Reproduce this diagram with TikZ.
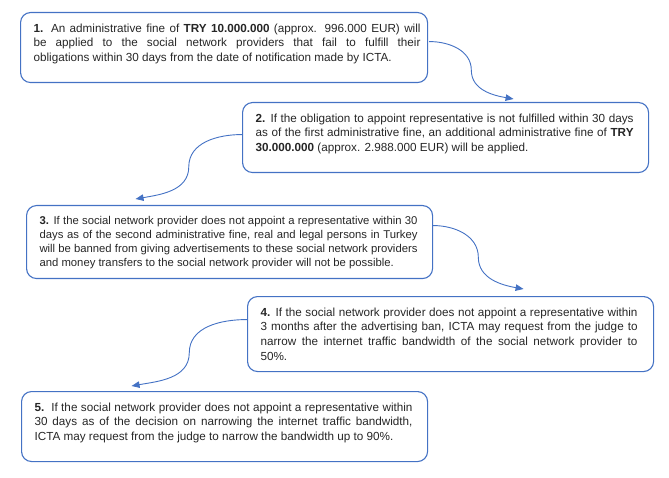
\documentclass[tikz,border=0pt]{standalone}
\usepackage{fontspec}
\setmainfont{Liberation Sans}
\usetikzlibrary{arrows.meta}
\usetikzlibrary{calc}

\definecolor{wordblue}{HTML}{4472C4}

\tikzset{
  stage/.style={draw=wordblue, line width=1.1pt, rounded corners=10pt, anchor=north west,
    inner xsep=13pt, inner ysep=11pt, text=black!85, font=\fontsize{11.7pt}{14.7pt}\selectfont},
  link/.style={draw=wordblue, line width=0.9pt, -{Triangle[length=8pt,width=6.5pt]}}
}
% one justified line of a box
\newcommand{\jl}[2][378pt]{\makebox[#1][s]{#2}}

\begin{document}
\begin{tikzpicture}[x=1pt, y=1pt]
        \useasboundingbox (0,0) rectangle (669,-478);
        % the five steps
        \node [stage] (b1) at (20,-12) {\parbox[t][48pt][t]{381pt}{%
          \jl[387pt]{\textbf{1.} An administrative fine of \textbf{TRY 10.000.000} (approx. 996.000 EUR) will}\\
          \jl[387pt]{be applied to the social network providers that fail to fulfill their}\\
          obligations within 30 days from the date of notification made by ICTA.}};
        \node [stage] (b2) at (242,-102) {\parbox[t][48pt][t]{380pt}{%
          \jl{\textbf{2.} If the obligation to appoint representative is not fulfilled within 30 days}\\
          \jl{as of the first administrative fine, an additional administrative fine of \textbf{TRY}}\\
          \textbf{30.000.000} (approx. 2.988.000 EUR) will be applied.}};
        \node [stage, font=\fontsize{11.3pt}{13.8pt}\selectfont] (b3) at (26,-205) {\parbox[t][51pt][t]{380pt}{%
          \jl{\textbf{3.} If the social network provider does not appoint a representative within 30}\\
          \jl{days as of the second administrative fine, real and legal persons in Turkey}\\
          \jl{will be banned from giving advertisements to these social network providers}\\
          and money transfers to the social network provider will not be possible.}};
        \node [stage] (b4) at (247,-296) {\parbox[t][53pt][t]{380pt}{%
          \jl[377pt]{\textbf{4.} If the social network provider does not appoint a representative within}\\
          \jl[377pt]{3 months after the advertising ban, ICTA may request from the judge to}\\
          \jl[377pt]{narrow the internet traffic bandwidth of the social network provider to}\\
          50\%.}};
        \node [stage] (b5) at (21,-391) {\parbox[t][48pt][t]{380pt}{%
          \jl{\textbf{5.}\ \ If the social network provider does not appoint a representative within}\\
          \jl{30 days as of the decision on narrowing the internet traffic bandwidth,}\\
          ICTA may request from the judge to narrow the bandwidth up to 90\%.}};

        % curved links
        \coordinate (s1) at ($(b1.east)+(1,6)$);
        \coordinate (e1) at ($(b2.north)+(68,3)$);
        \coordinate (s2) at ($(b2.west)+(0,3)$);
        \coordinate (e2) at ($(b3.north)+(-94,6)$);
        \coordinate (s3) at ($(b3.east)+(0,16.5)$);
        \coordinate (e3) at ($(b4.north)+(73,7)$);
        \coordinate (s4) at ($(b4.west)+(0,14.5)$);
        \coordinate (e4) at ($(b5.north)+(-93,5)$);
        \draw [link] (s1) to[out=0,in=90] ($(s1)!.5!(e1)$) to[out=-90,in=170] (e1);
        \draw [link] (s2) to[out=180,in=90] ($(s2)!.5!(e2)$) to[out=-90,in=10] (e2);
        \draw [link] (s3) to[out=0,in=90] ($(s3)!.5!(e3)$) to[out=-90,in=170] (e3);
        \draw [link] (s4) to[out=180,in=90] ($(s4)!.5!(e4)$) to[out=-90,in=10] (e4);
\end{tikzpicture}
\end{document}
